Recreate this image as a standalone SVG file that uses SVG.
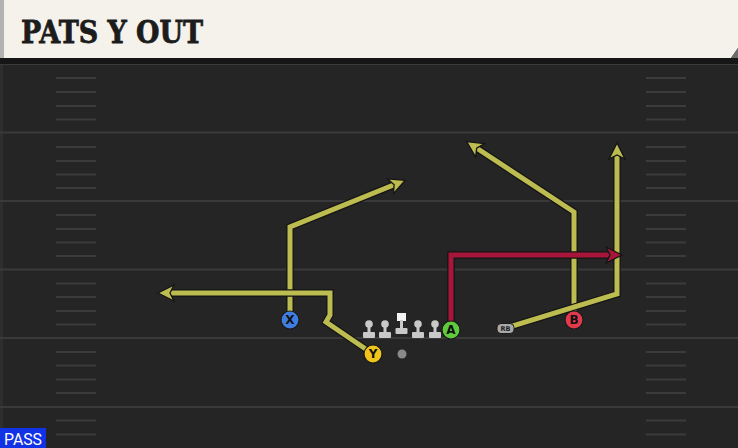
<svg xmlns="http://www.w3.org/2000/svg" width="738" height="448" viewBox="0 0 738 448">
<style>
.yard{stroke:#3a3a3a;stroke-width:2}
.hash{stroke:#3b3b3b;stroke-width:2}
.out{fill:none;stroke:#151515;stroke-width:7.5;stroke-linejoin:miter}
.rt{fill:none;stroke:#bcbc50;stroke-width:5;stroke-linejoin:miter}
.rd{fill:none;stroke:#a5163a;stroke-width:5;stroke-linejoin:miter}
.pl{stroke:#1a1a1a;stroke-width:1.2}
.lbl{font-family:"DejaVu Sans","Liberation Sans",sans-serif;font-weight:bold;font-size:12px;fill:#111;text-anchor:middle}
.ol{fill:#c9c9c9}
</style>
<defs>
<marker id="ay" markerUnits="userSpaceOnUse" markerWidth="22" markerHeight="22" viewBox="0 0 22 22" refX="7" refY="11" orient="auto">
<path d="M1,3 L17,11 L1,19 L5,11 z" fill="#bcbc50" stroke="#151515" stroke-width="1.3"/>
</marker>
<marker id="ar" markerUnits="userSpaceOnUse" markerWidth="22" markerHeight="22" viewBox="0 0 22 22" refX="7" refY="11" orient="auto">
<path d="M1,3 L17,11 L1,19 L5,11 z" fill="#a5163a" stroke="#151515" stroke-width="1.3"/>
</marker>
</defs>
<rect width="738" height="448" fill="#252525"/>
<rect x="0" y="60" width="3" height="388" fill="#2e2e2e"/>
<g id="field">
<line class="yard" x1="0" y1="64" x2="738" y2="64"/>
<line class="yard" x1="0" y1="132.5" x2="738" y2="132.5"/>
<line class="yard" x1="0" y1="201" x2="738" y2="201"/>
<line class="yard" x1="0" y1="269.5" x2="738" y2="269.5"/>
<line class="yard" x1="0" y1="338" x2="738" y2="338"/>
<line class="yard" x1="0" y1="407" x2="738" y2="407"/>
<g id="hashL">
<line class="hash" x1="56" y1="78" x2="96" y2="78"/><line class="hash" x1="56" y1="92" x2="96" y2="92"/><line class="hash" x1="56" y1="106" x2="96" y2="106"/><line class="hash" x1="56" y1="119.5" x2="96" y2="119.5"/>
<line class="hash" x1="56" y1="147" x2="96" y2="147"/><line class="hash" x1="56" y1="161" x2="96" y2="161"/><line class="hash" x1="56" y1="174.5" x2="96" y2="174.5"/><line class="hash" x1="56" y1="188" x2="96" y2="188"/>
<line class="hash" x1="56" y1="215" x2="96" y2="215"/><line class="hash" x1="56" y1="229" x2="96" y2="229"/><line class="hash" x1="56" y1="242.5" x2="96" y2="242.5"/><line class="hash" x1="56" y1="256" x2="96" y2="256"/>
<line class="hash" x1="56" y1="283.5" x2="96" y2="283.5"/><line class="hash" x1="56" y1="297" x2="96" y2="297"/><line class="hash" x1="56" y1="311" x2="96" y2="311"/><line class="hash" x1="56" y1="324.5" x2="96" y2="324.5"/>
<line class="hash" x1="56" y1="352" x2="96" y2="352"/><line class="hash" x1="56" y1="365.5" x2="96" y2="365.5"/><line class="hash" x1="56" y1="379.5" x2="96" y2="379.5"/><line class="hash" x1="56" y1="393" x2="96" y2="393"/>
<line class="hash" x1="56" y1="420.5" x2="96" y2="420.5"/><line class="hash" x1="56" y1="434.5" x2="96" y2="434.5"/>
</g>
<g id="hashR">
<line class="hash" x1="646" y1="78" x2="686" y2="78"/><line class="hash" x1="646" y1="92" x2="686" y2="92"/><line class="hash" x1="646" y1="106" x2="686" y2="106"/><line class="hash" x1="646" y1="119.5" x2="686" y2="119.5"/>
<line class="hash" x1="646" y1="147" x2="686" y2="147"/><line class="hash" x1="646" y1="161" x2="686" y2="161"/><line class="hash" x1="646" y1="174.5" x2="686" y2="174.5"/><line class="hash" x1="646" y1="188" x2="686" y2="188"/>
<line class="hash" x1="646" y1="215" x2="686" y2="215"/><line class="hash" x1="646" y1="229" x2="686" y2="229"/><line class="hash" x1="646" y1="242.5" x2="686" y2="242.5"/><line class="hash" x1="646" y1="256" x2="686" y2="256"/>
<line class="hash" x1="646" y1="283.5" x2="686" y2="283.5"/><line class="hash" x1="646" y1="297" x2="686" y2="297"/><line class="hash" x1="646" y1="311" x2="686" y2="311"/><line class="hash" x1="646" y1="324.5" x2="686" y2="324.5"/>
<line class="hash" x1="646" y1="352" x2="686" y2="352"/><line class="hash" x1="646" y1="365.5" x2="686" y2="365.5"/><line class="hash" x1="646" y1="379.5" x2="686" y2="379.5"/><line class="hash" x1="646" y1="393" x2="686" y2="393"/>
<line class="hash" x1="646" y1="420.5" x2="686" y2="420.5"/><line class="hash" x1="646" y1="434.5" x2="686" y2="434.5"/>
</g>
</g>
<g id="header">
<rect x="0" y="58" width="738" height="6" fill="#161616"/>
<path d="M0,0 H738 V48 L731,58 H0 Z" fill="#f5f2eb"/>
<rect x="0" y="0" width="4" height="58" fill="#b3b3b1"/>
<path d="M731,58 L738,48 V58 Z" fill="#6d6d6d"/>
<text x="21" y="43" font-family="'DejaVu Serif','Liberation Serif',serif" font-weight="bold" font-size="31" fill="#1c1c1c" stroke="#1c1c1c" stroke-width="0.8" textLength="182" lengthAdjust="spacingAndGlyphs">PATS Y OUT</text>
</g>
<g id="connectors">
<path class="out" d="M290,320 L290,227 L396,184"/>
<path class="rt" d="M290,320 L290,227 L396,184" marker-end="url(#ay)"/>
<path class="out" d="M373,354 L326,322 L330,315 L330,293 L168,293"/>
<path class="rt" d="M373,354 L326,322 L330,315 L330,293 L168,293" marker-end="url(#ay)"/>
<path class="out" d="M574,320 L574,212 L475,147"/>
<path class="rt" d="M574,320 L574,212 L475,147" marker-end="url(#ay)"/>
<path class="out" d="M506,328 L617,294 L617,153"/>
<path class="rt" d="M506,328 L617,294 L617,153" marker-end="url(#ay)"/>
<path class="out" d="M451,330 L451,255 L612,255"/>
<path class="rd" d="M451,330 L451,255 L612,255" marker-end="url(#ar)"/>
</g>
<g id="line">
<g id="lt"><circle class="ol" cx="369" cy="324" r="3.8"/><rect class="ol" x="367.5" y="324" width="3" height="9"/><rect class="ol" x="363" y="332" width="12" height="6" rx="1"/></g>
<g id="lg"><circle class="ol" cx="385" cy="324" r="3.8"/><rect class="ol" x="383.5" y="324" width="3" height="9"/><rect class="ol" x="379" y="332" width="12" height="6" rx="1"/></g>
<g id="c"><rect x="397" y="313" width="9" height="8" fill="#f4f4f4"/><rect class="ol" x="400" y="320" width="3" height="9"/><rect class="ol" x="395.5" y="328" width="12" height="6" rx="1"/></g>
<g id="rg"><circle class="ol" cx="418" cy="324" r="3.8"/><rect class="ol" x="416.5" y="324" width="3" height="9"/><rect class="ol" x="412" y="332" width="12" height="6" rx="1"/></g>
<g id="rt"><circle class="ol" cx="435" cy="324" r="3.8"/><rect class="ol" x="433.5" y="324" width="3" height="9"/><rect class="ol" x="429" y="332" width="12" height="6" rx="1"/></g>
</g>
<g id="qb"><circle cx="402" cy="354" r="4.5" fill="#8a8a8a"/></g>
<g id="rb"><rect x="497" y="323.5" width="17" height="10" rx="4" fill="#a9a9a9" stroke="#1a1a1a" stroke-width="1"/><text x="505.5" y="331.2" font-family="'DejaVu Sans',sans-serif" font-weight="bold" font-size="6.5" fill="#222" text-anchor="middle">RB</text></g>
<g id="X"><circle class="pl" cx="290" cy="320" r="9" fill="#3f7de0"/><text class="lbl" x="290" y="324.3">X</text></g>
<g id="Y"><circle class="pl" cx="373" cy="354" r="9" fill="#f1c41c"/><text class="lbl" x="373" y="358.3">Y</text></g>
<g id="A"><circle class="pl" cx="451" cy="330" r="9" fill="#5fcb3c"/><text class="lbl" x="451" y="334.3">A</text></g>
<g id="B"><circle class="pl" cx="574" cy="320" r="9" fill="#e3394c"/><text class="lbl" x="574" y="324.3">B</text></g>
<g id="pass"><rect x="0" y="428" width="46" height="20" fill="#1232e6"/><text x="23" y="444.5" font-family="Roboto,'Liberation Sans',sans-serif" font-size="16" fill="#ffffff" text-anchor="middle" textLength="38" lengthAdjust="spacingAndGlyphs">PASS</text></g>
</svg>
